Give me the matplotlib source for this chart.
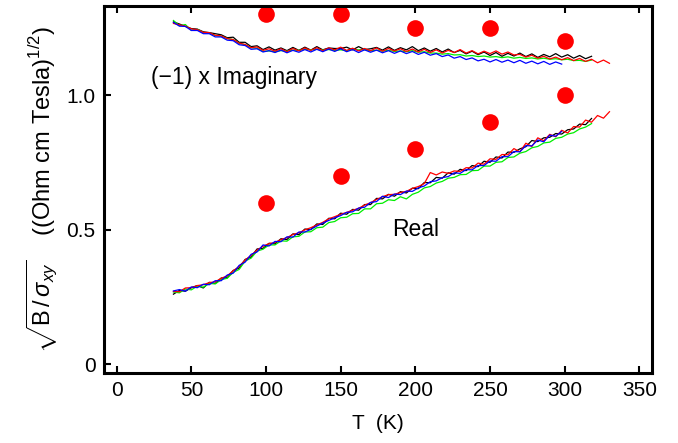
import numpy as np
import matplotlib
matplotlib.use("Agg")
import matplotlib.pyplot as plt

plt.rcParams['font.family'] = ['Liberation Sans', 'DejaVu Sans']
plt.rcParams['mathtext.fontset'] = 'custom'
plt.rcParams['mathtext.rm'] = 'Liberation Sans'
plt.rcParams['mathtext.it'] = 'Liberation Sans:italic'
plt.rcParams['mathtext.bf'] = 'Liberation Sans:bold'

# temperature sweep grid (K)
temps = list(range(38, 331, 4))

real_black = [.260,.274,.271,.284,.292,.283,.304,.300,.320,.321,.348,.357,.389,.398,.428,.430,.449,.447,.466,.463,
              .484,.481,.502,.500,.521,.519,.542,.540,.561,.557,.575,.572,.593,.593,.616,.614,.631,.624,.641,.636,
              .654,.652,.675,.674,.694,.691,.711,.706,.724,.719,.738,.734,.754,.750,.770,.766,.788,.787,.800,.808,
              .831,.827,.841,.843,.857,.855,.871,.874,.892,.890,.913]
real_red = [.270,.269,.283,.284,.292,.295,.303,.306,.319,.328,.347,.363,.387,.404,.424,.438,.448,.452,.463,.470,
            .482,.488,.499,.507,.517,.527,.540,.548,.557,.564,.572,.579,.591,.600,.612,.622,.630,.631,.638,.642,
            .653,.660,.671,.712,.703,.714,.709,.718,.716,.730,.729,.747,.743,.763,.761,.779,.778,.801,.789,.821,
            .809,.841,.830,.854,.845,.869,.859,.883,.881,.907,.899,.924,.914,.938]
real_green = [.268,.265,.279,.276,.290,.286,.300,.298,.314,.319,.341,.352,.383,.394,.420,.427,.443,.443,.458,.457,
              .473,.475,.491,.492,.507,.509,.526,.530,.544,.546,.559,.560,.577,.577,.596,.598,.611,.608,.622,.614,
              .631,.639,.655,.660,.673,.679,.691,.694,.704,.705,.719,.720,.736,.736,.750,.752,.768,.770,.784,.790,
              .804,.809,.822,.825,.839,.843,.855,.860,.874,.881,.894]
real_blue = [.272,.277,.271,.287,.284,.297,.295,.310,.310,.331,.338,.367,.379,.408,.417,.443,.439,.456,.455,.473,
             .472,.491,.491,.501,.513,.524,.534,.544,.552,.564,.566,.580,.583,.601,.604,.624,.619,.632,.630,.643,
             .642,.655,.662,.678,.681,.693,.697,.711,.709,.723,.722,.738,.738,.755,.754,.771,.771,.790,.789,.812,
             .811,.833,.826,.851,.847,.865]

imag_black = [1.272,1.264,1.255,1.247,1.245,1.235,1.232,1.228,1.224,1.213,1.215,1.196,1.196,1.180,1.183,1.169,1.179,1.167,1.175,1.165,
              1.177,1.166,1.178,1.167,1.180,1.168,1.175,1.173,1.173,1.178,1.168,1.180,1.169,1.172,1.177,1.167,1.179,1.166,1.176,1.168,
              1.180,1.165,1.175,1.163,1.173,1.160,1.171,1.158,1.166,1.153,1.163,1.150,1.160,1.147,1.158,1.144,1.155,1.145,1.156,1.143,
              1.153,1.140,1.151,1.142,1.154,1.141,1.150,1.137,1.147,1.135,1.144]
imag_red = [1.266,1.261,1.256,1.246,1.243,1.233,1.232,1.222,1.220,1.210,1.206,1.193,1.188,1.176,1.179,1.166,1.172,1.163,1.172,1.161,
            1.173,1.164,1.175,1.166,1.176,1.165,1.175,1.168,1.178,1.166,1.174,1.164,1.173,1.165,1.175,1.163,1.173,1.164,1.172,1.162,
            1.171,1.160,1.170,1.158,1.168,1.156,1.166,1.158,1.169,1.156,1.165,1.153,1.163,1.154,1.164,1.152,1.160,1.149,1.151,1.141,
            1.148,1.137,1.144,1.134,1.141,1.131,1.139,1.128,1.136,1.125,1.133,1.120,1.130,1.118]
imag_green = [1.277,1.258,1.262,1.240,1.244,1.232,1.230,1.221,1.219,1.210,1.206,1.192,1.187,1.176,1.174,1.162,1.164,1.161,1.165,1.163,
              1.167,1.166,1.170,1.168,1.170,1.167,1.169,1.166,1.168,1.165,1.170,1.168,1.169,1.164,1.167,1.163,1.166,1.162,1.164,1.161,
              1.165,1.159,1.161,1.156,1.156,1.152,1.154,1.149,1.150,1.145,1.147,1.143,1.145,1.141,1.143,1.139,1.142,1.137,1.140,1.136,
              1.138,1.134,1.137,1.133,1.135,1.131,1.133,1.128,1.129,1.125,1.130]
imag_blue = [1.270,1.256,1.255,1.240,1.240,1.228,1.228,1.216,1.216,1.204,1.202,1.187,1.184,1.170,1.172,1.160,1.165,1.158,1.167,1.157,
             1.166,1.159,1.169,1.160,1.170,1.161,1.171,1.162,1.172,1.161,1.169,1.158,1.168,1.159,1.167,1.157,1.165,1.155,1.164,1.154,
             1.162,1.151,1.159,1.148,1.154,1.143,1.149,1.137,1.143,1.132,1.138,1.127,1.133,1.123,1.132,1.122,1.130,1.120,1.129,1.118,
             1.126,1.116,1.125,1.114,1.123,1.115]

dot_T = [100, 150, 200, 250, 300]
dot_real = [0.60, 0.70, 0.80, 0.90, 1.00]
dot_imag = [1.30, 1.30, 1.25, 1.25, 1.20]

fig = plt.figure(figsize=(6.78, 4.43), dpi=100)
ax = fig.add_axes([0.1534, 0.158, 0.8083, 0.8285])

for series in (real_black, imag_black):
    ax.plot(temps[:len(series)], series, color='black', lw=0.9)
for series in (real_green, imag_green):
    ax.plot(temps[:len(series)], series, color='#00ee00', lw=0.9)
for series in (real_red, imag_red):
    ax.plot(temps[:len(series)], series, color='red', lw=0.9)
for series in (real_blue, imag_blue):
    ax.plot(temps[:len(series)], series, color='blue', lw=0.9)

ax.plot(dot_T, dot_real, 'o', color='red', ms=12, mec='none')
ax.plot(dot_T, dot_imag, 'o', color='red', ms=12, mec='none')

ax.set_xlim(-8.5, 358.5)
ax.set_ylim(-0.033, 1.331)
ax.set_xticks([0, 50, 100, 150, 200, 250, 300, 350])
ax.set_yticks([0, 0.5, 1.0])
ax.set_yticklabels(['0', '0.5', '1.0'])

for s in ax.spines.values():
    s.set_linewidth(2.2)
ax.tick_params(axis='both', direction='in', length=5, width=1.5, labelsize=15,
               top=True, right=False, pad=6)

ax.text(23, 1.067, '(\u22121) x Imaginary', fontsize=16.5, va='center', ha='left')
ax.text(200, 0.5, 'Real', fontsize=16.5, va='center', ha='center')

ax.set_xlabel('T  (K)', fontsize=15, labelpad=10)
ax.set_ylabel(r'$\sqrt{\mathrm{B}\,/\,\sigma_{xy}}$    ((Ohm cm Tesla)$^{1/2}$)', fontsize=17, labelpad=5)

fig.savefig('out.png', dpi=100)
